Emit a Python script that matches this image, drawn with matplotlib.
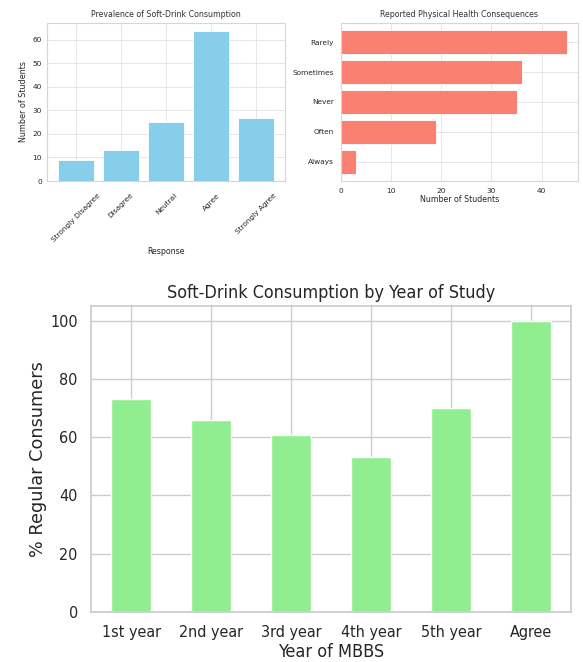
import matplotlib
matplotlib.use("Agg")
import matplotlib.pyplot as plt
import seaborn as sns
import numpy as np

sns.set_theme(style="whitegrid")
plt.rcParams['font.family'] = ['DejaVu Sans']

# Survey responses: soft-drink consumption prevalence
prevalence_labels = ["Strongly Disagree", "Disagree", "Neutral", "Agree", "Strongly Agree"]
prevalence_counts = [9, 13, 25, 64, 27]

# Reported physical health consequences (sorted ascending for barh)
health_labels = ["Always", "Often", "Never", "Sometimes", "Rarely"]
health_counts = [3, 19, 35, 36, 45]

# Share of regular consumers by year of study
year_labels = ["1st year", "2nd year", "3rd year", "4th year", "5th year", "Agree"]
year_pct = [73.2, 65.8, 60.6, 53.3, 70.0, 100.0]

W, H = 583, 662
fig = plt.figure(figsize=(W / 100, H / 100), dpi=100)

def box(l, t, r, b):
    return [l / W, 1 - b / H, (r - l) / W, (b - t) / H]

small = 5.3

def thin(ax):
    ax.grid(linewidth=0.6, color="#e2e2e2")
    for s in ax.spines.values():
        s.set_linewidth(0.8)
        s.set_color("#d6d6d6")
    ax.set_axisbelow(True)

# Top-left: prevalence
ax1 = fig.add_axes(box(47, 23, 285, 181))
ax1.bar(prevalence_labels, prevalence_counts, color="skyblue", edgecolor="white", linewidth=0.6)
ax1.set_title("Prevalence of Soft-Drink Consumption", fontsize=5.7, pad=4, color="#333333")
ax1.set_xlabel("Response", fontsize=5.7, labelpad=3)
ax1.set_ylabel("Number of Students", fontsize=5.8, labelpad=3)
ax1.tick_params(axis="x", labelsize=small, pad=2)
ax1.tick_params(axis="y", labelsize=small, length=0, pad=3.5)
plt.setp(ax1.get_xticklabels(), rotation=45)
thin(ax1)

# Top-right: health consequences
ax2 = fig.add_axes(box(341, 23, 578, 181))
ax2.barh(health_labels, health_counts, color="salmon", edgecolor="white", linewidth=0.6)
ax2.set_title("Reported Physical Health Consequences", fontsize=5.7, pad=4, color="#333333")
ax2.set_xlabel("Number of Students", fontsize=5.7, labelpad=1)
ax2.tick_params(axis="both", labelsize=small, length=0, pad=5)
thin(ax2)

# Bottom: by year of study
ax3 = fig.add_axes(box(91, 306, 571, 612))
x = np.arange(len(year_labels))
ax3.bar(x, year_pct, width=0.5, color="lightgreen")
ax3.set_xlim(-0.5, len(year_labels) - 0.5)
ax3.set_xticks(x)
ax3.set_xticklabels(year_labels, rotation=0, fontstretch="condensed")
for lab in ax3.get_yticklabels():
    lab.set_fontstretch("condensed")
ax3.set_title("Soft-Drink Consumption by Year of Study", fontsize=12.9, pad=6,
              fontstretch="condensed")
ax3.set_xlabel("Year of MBBS", fontsize=13, labelpad=2, fontstretch="condensed")
ax3.set_ylabel("% Regular Consumers", fontsize=12.7, labelpad=2)
ax3.tick_params(axis="both", labelsize=11.5)

fig.savefig("out.png", dpi=100)
